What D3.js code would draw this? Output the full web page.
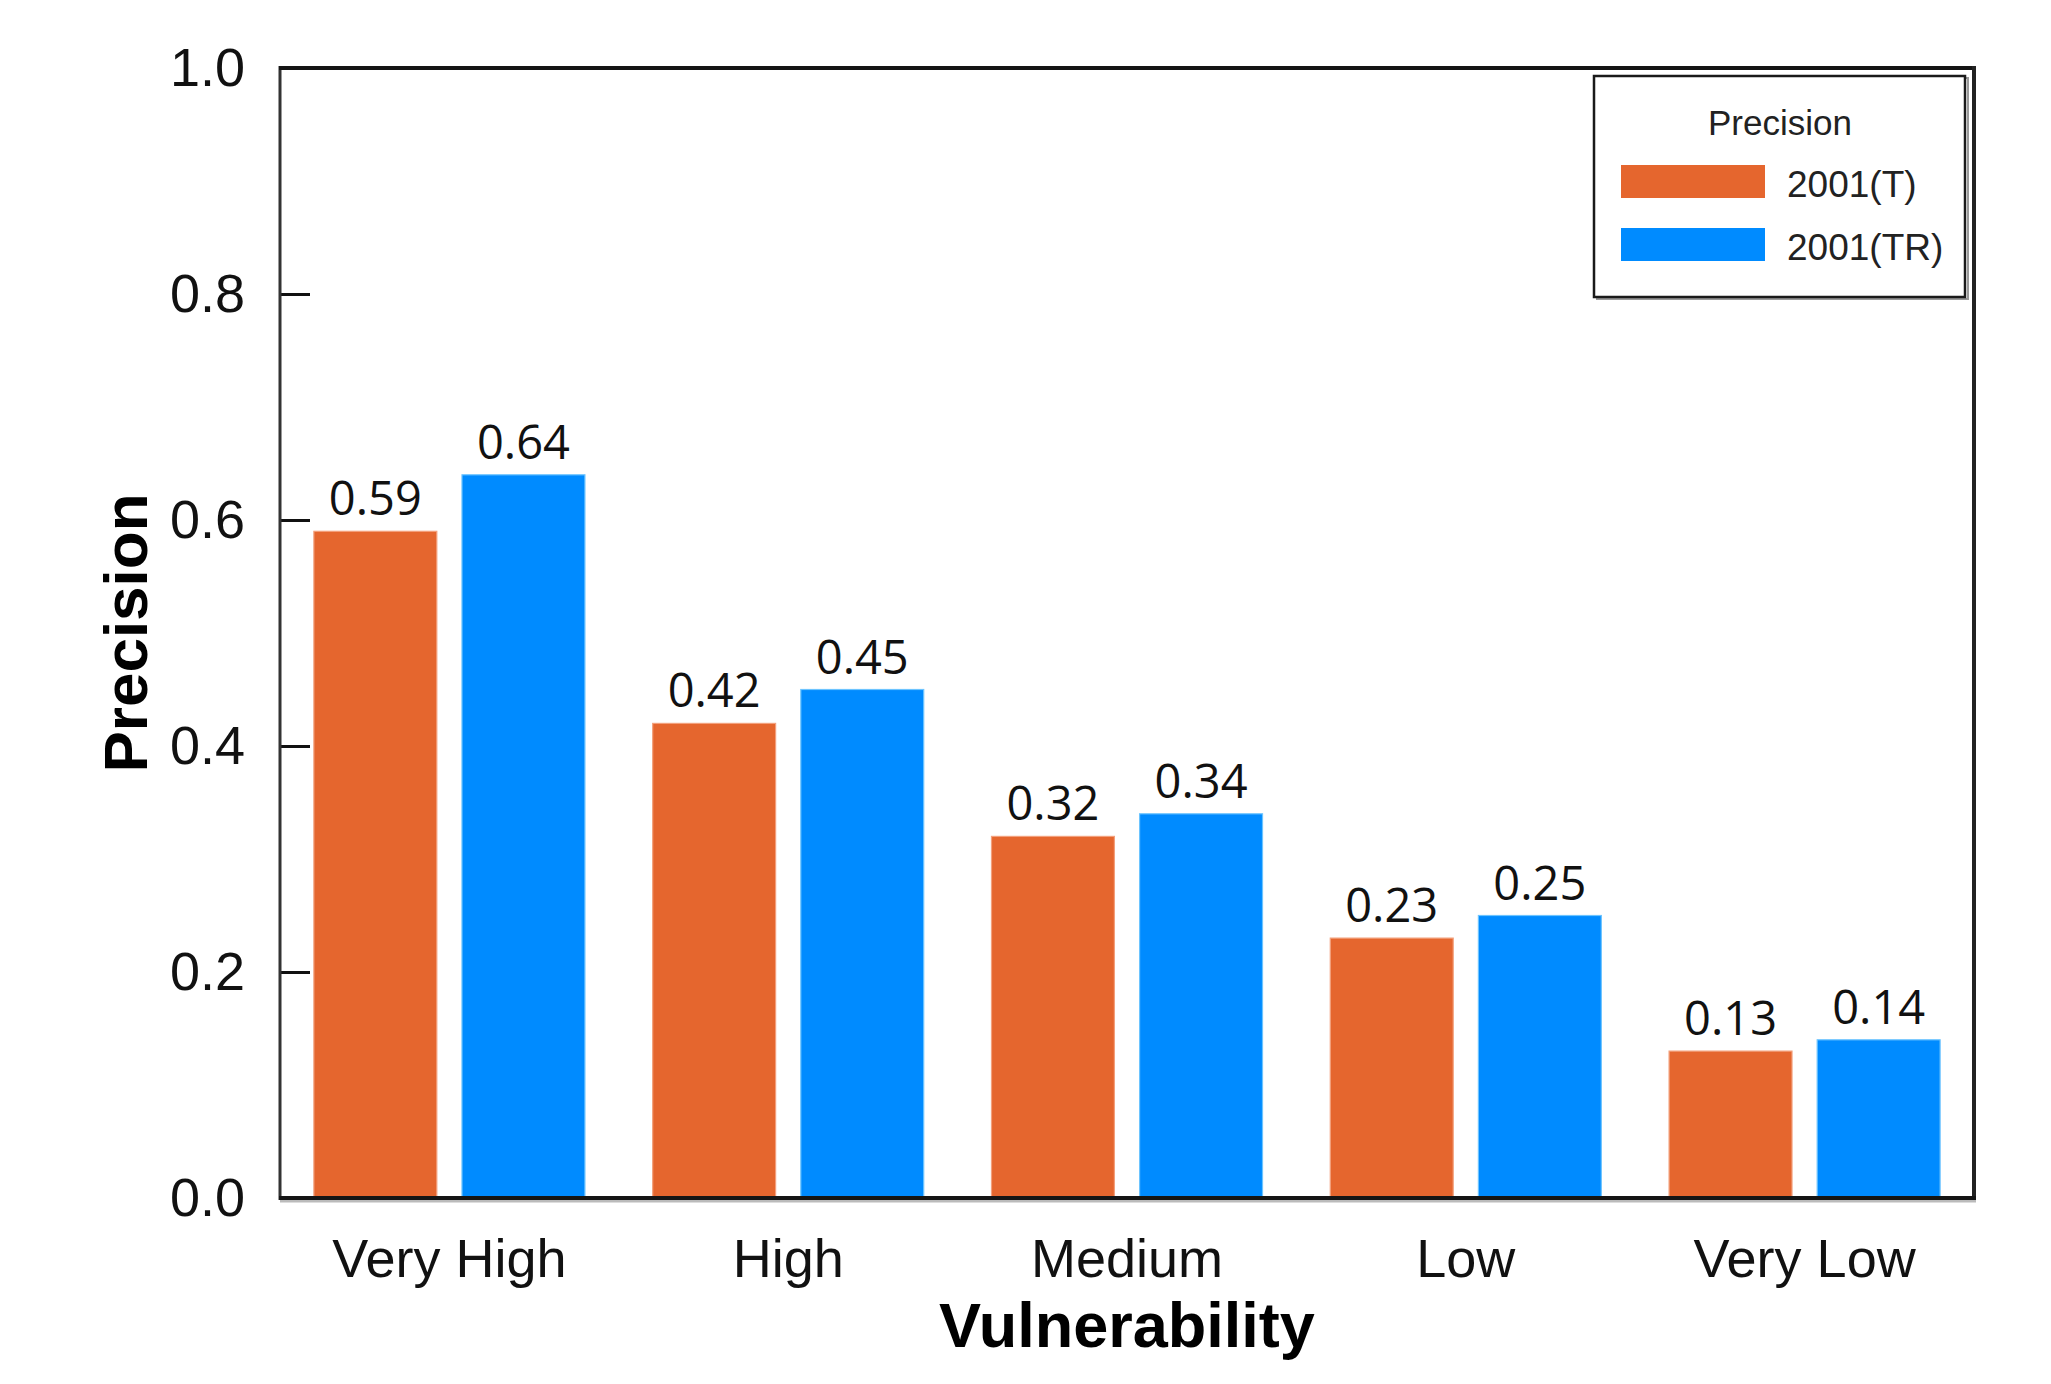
<!DOCTYPE html>
<html>
<head>
<meta charset="utf-8">
<script src="https://cdn.jsdelivr.net/npm/d3@7"></script>
<style>
  body { margin: 0; background: #fff; }
  svg { display: block; }
</style>
</head>
<body>
<svg id="chart" width="2051" height="1384"></svg>
<script>
// data
const categories = ["Very High", "High", "Medium", "Low", "Very Low"];
const series = ["2001(T)", "2001(TR)"];
const valuesT = [0.59, 0.42, 0.32, 0.23, 0.13];
const valuesTR = [0.64, 0.45, 0.34, 0.25, 0.14];
const yTicks = [0.0, 0.2, 0.4, 0.6, 0.8, 1.0];
const colors = ["#e5662e", "#008bff"];
const edgeColors = ["#f3a07c", "#6cc4ff"];

const svg = d3.select("#chart");
svg.append("rect").attr("width", 2051).attr("height", 1384).attr("fill", "#fff");

const plotLeft = 280, plotRight = 1974, plotTop = 68, plotBottom = 1198;

const x0 = d3.scaleBand().domain(categories).range([plotLeft, plotRight])
    .paddingInner(0.2).paddingOuter(0.1);
const x1 = d3.scaleBand().domain(series).range([0, x0.bandwidth()])
    .paddingInner(0.17).paddingOuter(0);
const y = d3.scaleLinear().domain([0, 1]).range([plotBottom, plotTop]);

const rows = categories.map(function(c, i) {
    return { cat: c, vals: [valuesT[i], valuesTR[i]] };
});

// bars
const groups = svg.selectAll(".grp")
    .data(rows)
    .enter().append("g")
    .attr("class", "grp")
    .attr("transform", function(d) { return "translate(" + x0(d.cat) + ",0)"; });

groups.selectAll("rect")
    .data(function(d) { return d.vals.map(function(v, k) { return { s: series[k], v: v, k: k }; }); })
    .enter().append("rect")
    .attr("x", function(d) { return x1(d.s); })
    .attr("y", function(d) { return y(d.v); })
    .attr("width", x1.bandwidth())
    .attr("height", function(d) { return plotBottom - y(d.v); })
    .attr("fill", function(d) { return colors[d.k]; })
    .attr("stroke", function(d) { return edgeColors[d.k]; })
    .attr("stroke-width", 1.2);

groups.selectAll(".val")
    .data(function(d) { return d.vals.map(function(v, k) { return { s: series[k], v: v }; }); })
    .enter().append("text")
    .attr("class", "val")
    .attr("x", function(d) { return x1(d.s) + x1.bandwidth() / 2; })
    .attr("y", function(d) { return y(d.v) - 16; })
    .attr("text-anchor", "middle")
    .attr("font-family", "'Open Sans', 'Noto Sans', sans-serif")
    .attr("font-size", 47)
    .attr("fill", "#111")
    .text(function(d) { return d3.format(".2f")(d.v); });

// y axis, ticks pointing inward
const yAxis = svg.append("g")
    .attr("transform", "translate(" + plotLeft + ",0)")
    .call(d3.axisLeft(y).tickValues(yTicks).tickFormat(d3.format(".1f"))
        .tickSizeInner(-30).tickSizeOuter(0).tickPadding(35));
yAxis.select(".domain").remove();
yAxis.selectAll(".tick line").attr("stroke", "#111").attr("stroke-width", 3);
yAxis.selectAll(".tick text")
    .attr("font-family", "'Liberation Sans', Arial, sans-serif")
    .attr("font-size", 54)
    .attr("fill", "#111");

// x axis labels
const xAxis = svg.append("g")
    .attr("transform", "translate(0," + plotBottom + ")")
    .call(d3.axisBottom(x0).tickSize(0).tickPadding(0));
xAxis.select(".domain").remove();
xAxis.selectAll(".tick text")
    .attr("dy", null)
    .attr("y", 79)
    .attr("font-family", "'Liberation Sans', Arial, sans-serif")
    .attr("font-size", 54)
    .attr("fill", "#111");

// frame
svg.append("line").attr("x1", plotLeft).attr("x2", plotLeft).attr("y1", plotTop - 2).attr("y2", plotBottom + 2)
    .attr("stroke", "#333").attr("stroke-width", 3);
svg.append("line").attr("x1", plotLeft - 1).attr("x2", plotRight + 2).attr("y1", plotTop).attr("y2", plotTop)
    .attr("stroke", "#151515").attr("stroke-width", 4);
svg.append("line").attr("x1", plotRight).attr("x2", plotRight).attr("y1", plotTop - 2).attr("y2", plotBottom + 2)
    .attr("stroke", "#222").attr("stroke-width", 4);
svg.append("line").attr("x1", plotLeft).attr("x2", plotRight + 2).attr("y1", plotBottom + 3).attr("y2", plotBottom + 3)
    .attr("stroke", "#bbb").attr("stroke-width", 3);
svg.append("line").attr("x1", plotLeft - 1).attr("x2", plotRight + 2).attr("y1", plotBottom).attr("y2", plotBottom)
    .attr("stroke", "#151515").attr("stroke-width", 4);

// axis titles
svg.append("text")
    .attr("transform", "translate(147," + ((plotTop + plotBottom) / 2) + ") rotate(-90)")
    .attr("text-anchor", "middle")
    .attr("font-family", "'Liberation Sans', Arial, sans-serif")
    .attr("font-weight", "bold")
    .attr("font-size", 62)
    .attr("fill", "#000")
    .text("Precision");

svg.append("text")
    .attr("x", (plotLeft + plotRight) / 2)
    .attr("y", 1347)
    .attr("text-anchor", "middle")
    .attr("font-family", "'Liberation Sans', Arial, sans-serif")
    .attr("font-weight", "bold")
    .attr("font-size", 63)
    .attr("fill", "#000")
    .text("Vulnerability");

// legend
const lg = svg.append("g");
lg.append("rect").attr("x", 1597).attr("y", 78).attr("width", 371).attr("height", 221)
    .attr("fill", "none").attr("stroke", "#999").attr("stroke-width", 2);
lg.append("rect").attr("x", 1594).attr("y", 76).attr("width", 371).attr("height", 221)
    .attr("fill", "#fff").attr("stroke", "#1a1a1a").attr("stroke-width", 2.5);
lg.append("text").attr("x", 1780).attr("y", 135).attr("text-anchor", "middle")
    .attr("font-family", "'Liberation Sans', Arial, sans-serif")
    .attr("font-size", 35).attr("fill", "#222").text("Precision");

const items = lg.selectAll(".item")
    .data(series)
    .enter().append("g")
    .attr("class", "item")
    .attr("transform", function(d, i) { return "translate(0," + (i * 63) + ")"; });
items.append("rect").attr("x", 1621).attr("y", 165).attr("width", 144).attr("height", 33)
    .attr("fill", function(d, i) { return colors[i]; });
items.append("text").attr("x", 1787).attr("y", 197)
    .attr("font-family", "'Liberation Sans', Arial, sans-serif")
    .attr("font-size", 37).attr("fill", "#222")
    .text(function(d) { return d; });
</script>
</body>
</html>
